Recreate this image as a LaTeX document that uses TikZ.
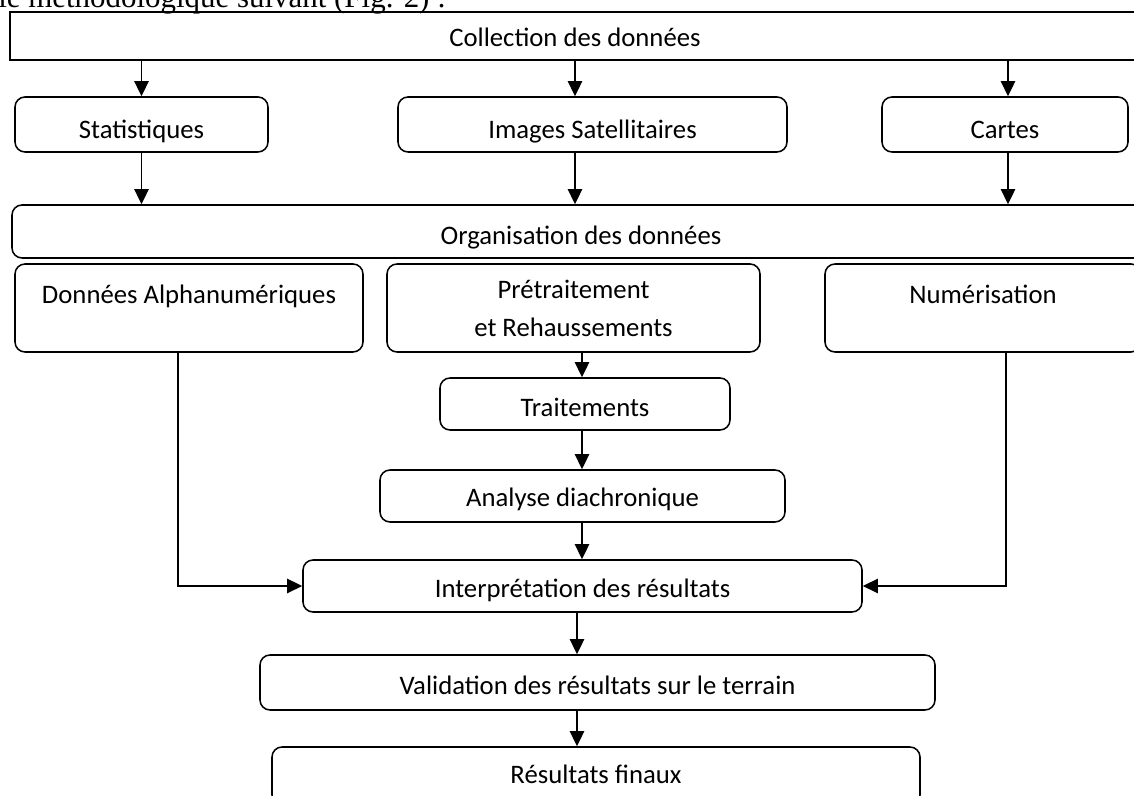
\documentclass[tikz,border=0pt]{standalone}
\usepackage{fontspec}
\setmainfont{Carlito}
\newfontfamily\headfont{Liberation Serif}
\usetikzlibrary{arrows.meta}
\begin{document}
\begin{tikzpicture}[
    box/.style={draw, line width=1.1pt, rounded corners=0.25cm, align=center,
        inner sep=0pt, font=\fontsize{19}{27}\selectfont},
    onebox/.style={box, text height=#1, text depth=0pt},
    onebox/.default=20pt,
    topbox/.style={box, text height=0pt, text depth=7pt},
    flow/.style={line width=1.3pt, -{Triangle[length=0.38cm,width=0.36cm]}}
]
    % Frame of the page
    \useasboundingbox (0,0) rectangle (28.35,19.9);
    \clip (0,0) rectangle (28.35,19.9);

    % Text line cut off above the figure
    \node[anchor=base west, inner sep=0pt, font=\headfont\fontsize{22}{26}\selectfont]
        (head) at (-0.05,19.72) {le méthodologique suivant (Fig. 2) :};

    % Data sources
    \node[onebox=15pt, rounded corners=0pt, minimum width=28.25cm, minimum height=1.2cm]
        (collect) at (14.375,19.0) {Collection des données};
    \node[onebox, minimum width=6.325cm, minimum height=1.375cm] (stat) at (3.5375,16.7875) {Statistiques};
    \node[onebox, minimum width=9.725cm, minimum height=1.375cm] (img) at (14.8125,16.7875) {Images Satellitaires};
    \node[onebox=20.5pt, minimum width=6.15cm, minimum height=1.375cm] (cartes) at (25.125,16.7875) {Cartes};

    % Organisation
    \node[onebox=19pt, minimum width=28.45cm, minimum height=1.325cm]
        (org) at (14.525,14.1125) {Organisation des données};
    \node[topbox, minimum width=8.7cm, minimum height=2.2cm] (alpha) at (4.725,12.2) {Données Alphanumériques};
    \node[box, minimum width=9.325cm, minimum height=2.2cm] (pre) at (14.3375,12.2) {Prétraitement\\et Rehaussements};
    \node[topbox, minimum width=7.9cm, minimum height=2.2cm] (num) at (24.575,12.2) {Numérisation};

    % Processing chain
    \node[onebox=18pt, minimum width=7.25cm, minimum height=1.3cm] (trait) at (14.625,9.8) {Traitements};
    \node[onebox=14.5pt, minimum width=10.125cm, minimum height=1.3cm] (ana) at (14.5625,7.5) {Analyse diachronique};
    \node[onebox=17pt, minimum width=13.975cm, minimum height=1.3cm] (interp) at (14.5625,5.25) {Interprétation des résultats};
    \node[onebox=17pt, minimum width=16.875cm, minimum height=1.375cm] (valid) at (14.9375,2.8375) {Validation des résultats sur le terrain};
    \node[onebox=10pt, minimum width=16.2cm, minimum height=1.45cm] (final) at (14.9,0.5) {Résultats finaux};

    % Arrows
    \draw[flow] (collect.south -| stat) -- (stat.north);
    \draw[flow] (collect.south -| 14.375,0) -- (img.north -| 14.375,0);
    \draw[flow] (collect.south -| 25.2,0) -- (cartes.north -| 25.2,0);
    \draw[flow] (stat.south) -- (org.north -| stat);
    \draw[flow] (img.south -| 14.375,0) -- (org.north -| 14.375,0);
    \draw[flow] (cartes.south -| 25.2,0) -- (org.north -| 25.2,0);
    \draw[flow] (pre.south -| 14.55,0) -- (trait.north -| 14.55,0);
    \draw[flow] (trait.south -| 14.55,0) -- (ana.north -| 14.55,0);
    \draw[flow] (ana.south -| 14.55,0) -- (interp.north -| 14.55,0);
    \draw[flow] (interp.south -| 14.425,0) -- (valid.north -| 14.425,0);
    \draw[flow] (valid.south -| 14.425,0) -- (final.north -| 14.425,0);
    \draw[flow, line width=1.1pt] (alpha.south -| 4.45,0) |- (interp.west);
    \draw[flow, line width=1.1pt] (num.south -| 25.15,0) |- (interp.east);
\end{tikzpicture}
\end{document}
